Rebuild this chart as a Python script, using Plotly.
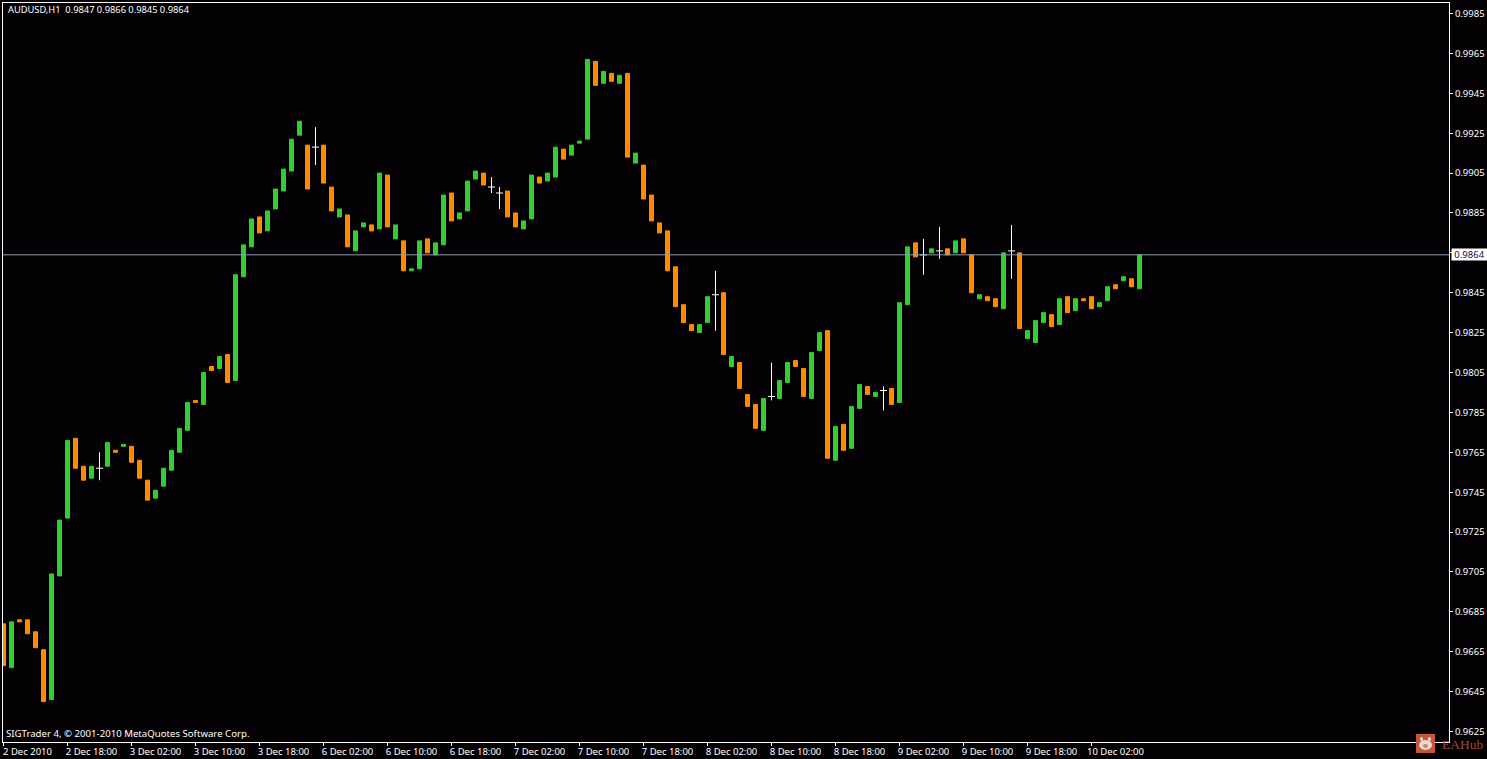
import plotly.graph_objects as go

# Prices in pips (price = value / 10000): open and close of each hourly bar
opens = [9679,9657,9681,9681,9675,9666,9641,9703,9732,9772,9758,9752,9757,9758,9766,9768,9768,9761,9751,9742,
9748,9756,9765,9776,9791,9789,9808,9807,9814,9801,9853,9868,9883,9876,9887,9896,9906,9924,9919,9918,
9919,9898,9883,9884,9866,9878,9879,9877,9904,9872,9871,9856,9857,9872,9864,9869,9895,9882,9886,9902,
9905,9898,9895,9896,9885,9877,9882,9903,9901,9903,9917,9914,9920,9922,9961,9950,9955,9950,9955,9910,
9909,9894,9880,9876,9858,9839,9829,9825,9830,9844,9845,9808,9810,9794,9789,9776,9793,9792,9800,9811,
9807,9792,9816,9826,9761,9779,9767,9787,9798,9793,9796,9797,9790,9839,9870,9864,9865,9866,9867,9865,
9872,9864,9842,9843,9842,9837,9866,9865,9822,9820,9830,9834,9829,9843,9836,9842,9843,9838,9841,9849,
9851,9852,9847]
closes = [9658,9680,9680,9674,9667,9640,9704,9731,9771,9757,9751,9758,9757,9770,9765,9769,9760,9752,9741,9746,
9757,9766,9777,9790,9790,9805,9806,9813,9800,9854,9869,9882,9875,9886,9897,9907,9922,9931,9897,9918,
9900,9886,9887,9868,9876,9880,9876,9905,9878,9879,9856,9857,9871,9865,9870,9894,9881,9885,9901,9906,
9899,9898,9895,9883,9878,9881,9904,9900,9905,9918,9912,9919,9921,9962,9949,9956,9951,9954,9913,9915,
9892,9881,9875,9856,9838,9830,9826,9829,9843,9844,9814,9813,9797,9788,9777,9792,9793,9801,9810,9808,
9793,9815,9825,9762,9778,9766,9788,9799,9794,9795,9796,9789,9840,9868,9863,9864,9867,9866,9864,9871,
9865,9845,9844,9841,9838,9865,9866,9827,9826,9831,9835,9828,9842,9835,9842,9841,9837,9840,9848,9847,
9853,9848,9864]
# Wicks are only visible on the doji bars (open == close)
doji_index = [12,39,61,62,89,96,110,115,117,126]
doji_high = [9765,9928,9903,9898,9856,9810,9798,9872,9878,9879]
doji_low = [9751,9909,9895,9887,9826,9791,9786,9854,9862,9852]

x_tick_index = [0,8,16,24,32,40,48,56,64,72,80,88,96,104,112,120,128,136]
x_tick_labels = ["2 Dec 2010","2 Dec 18:00","3 Dec 02:00","3 Dec 10:00","3 Dec 18:00","6 Dec 02:00",
"6 Dec 10:00","6 Dec 18:00","7 Dec 02:00","7 Dec 10:00","7 Dec 18:00","8 Dec 02:00","8 Dec 10:00",
"8 Dec 18:00","9 Dec 02:00","9 Dec 10:00","9 Dec 18:00","10 Dec 02:00"]
y_ticks = [0.9625,0.9645,0.9665,0.9685,0.9705,0.9725,0.9745,0.9765,0.9785,0.9805,0.9825,0.9845,0.9865,
0.9885,0.9905,0.9925,0.9945,0.9965,0.9985]
bid = 0.9864
header = "AUDUSD,H1\u00a0\u00a00.9847 0.9866 0.9845 0.9864"
footer = "SIGTrader 4, © 2001-2010 MetaQuotes Software Corp."

W, H = 1487, 759
L, R, T, B = 3, 38, 3, 17
BG = "#040205"
UP, DOWN = "#32CD32", "#FF8C00"
GRID = "#8C9DAE"
FONT = "Noto Sans"
FS = 9.5

def px(v): return (v - L) / (W - L - R)
def py(v): return 1 - (v - T) / (H - T - B)

body_i = [i for i in range(len(opens)) if opens[i] != closes[i]]
lo = [min(opens[i], closes[i]) / 10000 for i in body_i]
hi = [max(opens[i], closes[i]) / 10000 for i in body_i]
cols = [UP if closes[i] > opens[i] else DOWN for i in body_i]

wick_x, wick_y = [], []
for i, h, l in zip(doji_index, doji_high, doji_low):
    wick_x += [i, i, None]
    wick_y += [l / 10000, h / 10000, None]

fig = go.Figure()
fig.add_trace(go.Bar(x=body_i, base=lo, y=[h - l for h, l in zip(hi, lo)], width=0.5,
                     marker=dict(color=cols, line=dict(color=cols, width=1)), hoverinfo="skip"))
fig.add_trace(go.Scatter(x=wick_x, y=wick_y, mode="lines", line=dict(color="white", width=1),
                         hoverinfo="skip"))
fig.add_trace(go.Scatter(x=doji_index, y=[opens[i] / 10000 for i in doji_index], mode="markers",
                         marker=dict(symbol="line-ew", size=5, line=dict(color="white", width=1)),
                         hoverinfo="skip"))

fig.add_shape(type="line", xref="paper", x0=0, x1=1, yref="y", y0=bid, y1=bid,
              line=dict(color=GRID, width=1), layer="above")
# EAHub watermark
fig.add_shape(type="rect", xref="paper", yref="paper", x0=px(1416), x1=px(1435), y0=py(753), y1=py(734),
              fillcolor="#C4573A", line=dict(width=0), layer="above")
for (a, b, c, d, col) in [(1419, 1432, 740, 750, "#EAD6CC"), (1420, 1423, 737, 741, "#EAD6CC"),
                          (1428, 1431, 737, 741, "#EAD6CC"), (1423, 1428, 744, 748, "#C08A76")]:
    fig.add_shape(type="circle", xref="paper", yref="paper", x0=px(a), x1=px(b), y0=py(d), y1=py(c),
                  fillcolor=col, line=dict(width=0), layer="above")

def note(x, y, text, size=FS, **kw):
    font = kw.pop("font", dict(family=FONT, size=size, color="white"))
    fig.add_annotation(xref="paper", yref="paper", x=px(x), y=py(y), text=text, showarrow=False,
                       xanchor="left", yanchor="middle", font=font, **kw)

note(6, 10, header, size=9.3)
note(4, 733, footer, size=9.65)
note(1440, 744, "EAHub", font=dict(family="Liberation Serif", size=13.5, color="#A04A30"))
fig.add_annotation(xref="paper", yref="y", x=px(1451), y=bid, text=f"{bid:.4f}", showarrow=False,
                   xanchor="left", yanchor="middle", bgcolor="white", width=35, height=11, borderpad=0,
                   font=dict(family=FONT, size=FS, color="#101030"))

axis = dict(showgrid=False, zeroline=False, showline=True, linecolor="white", linewidth=1, mirror=True,
            ticks="outside", ticklen=3, tickwidth=1, tickcolor="white",
            tickfont=dict(family=FONT, size=FS, color="white"))
fig.update_layout(
    width=W, height=H, margin=dict(l=L, r=R, t=T, b=B, pad=0, autoexpand=False), autosize=False,
    paper_bgcolor=BG, plot_bgcolor=BG, showlegend=False, barmode="overlay", hovermode=False,
    xaxis=dict(range=[-0.0625, 180.6875], tickmode="array", tickvals=x_tick_index, ticktext=x_tick_labels,
               ticklabelshift=24, ticklabelstandoff=-2, **axis),
    yaxis=dict(range=[0.961974, 0.999027], side="right", tickmode="array", tickvals=y_ticks,
               ticktext=[f"{v:.4f}" for v in y_ticks], **axis),
)
fig.write_html("out.html", config=dict(displayModeBar=False),
               post_script="document.body.style.margin='0';document.body.style.background='%s';document.body.style.overflow='hidden';" % BG)
